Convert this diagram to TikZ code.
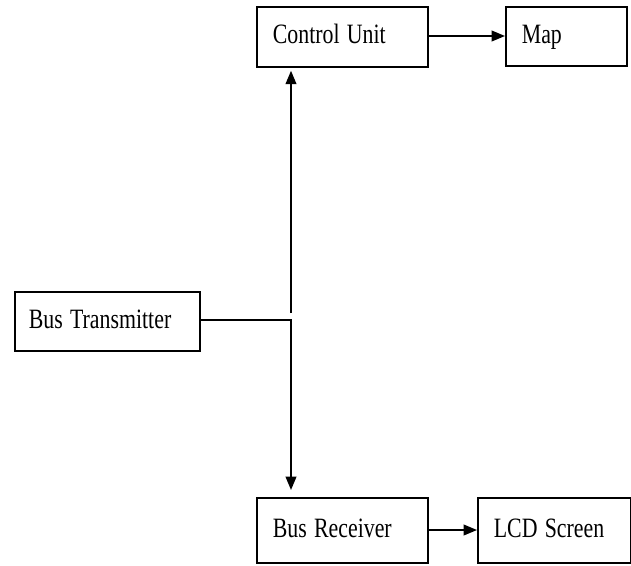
\documentclass[tikz,border=0pt]{standalone}
\usepackage{graphicx}
\usepackage{fontspec}
\setmainfont{Liberation Serif}
\usetikzlibrary{arrows.meta}

\newcommand{\narrowtext}[1]{\scalebox{0.78}[1]{#1}}

\tikzset{
  blockbox/.style={draw, line width=1.3pt, rectangle, anchor=north west,
    inner xsep=12pt, inner ysep=0pt, align=left,
    text height=14pt, text depth=4pt,
    font=\fontsize{21}{24}\selectfont},
  flowline/.style={line width=1.3pt},
  flowarrow/.style={flowline, -{Triangle[length=10pt,width=8pt]}}
}

\begin{document}
\begin{tikzpicture}[x=0.75pt,y=0.75pt,yscale=-1,xscale=1]
\useasboundingbox (0,0) rectangle (631,565);

%Shape: Rectangle [Control Unit]
\node[blockbox, text width=104.25pt, minimum height=45pt] (cu) at (256,6) {\narrowtext{Control Unit}};
%Shape: Rectangle [Map]
\node[blockbox, text width=66.75pt, minimum height=44.25pt] (map) at (505,6) {\narrowtext{Map}};
%Shape: Rectangle [Bus Transmitter]
\node[blockbox, text width=117.75pt, minimum height=44.25pt, inner xsep=10.5pt] (bt) at (14,291) {\narrowtext{Bus Transmitter}};
%Shape: Rectangle [Bus Receiver]
\node[blockbox, text width=104.25pt, minimum height=48.75pt] (br) at (256,497) {\narrowtext{Bus Receiver}};
%Shape: Rectangle [LCD Screen]
\node[blockbox, text width=90.75pt, minimum height=48.75pt] (lcd) at (477,497) {\narrowtext{LCD Screen}};

%Junction points
\coordinate (jn) at (291,320);
\coordinate (up) at (291,313);

%Straight Lines
\draw[flowarrow] (cu.east |- 0,36) -- (map.west |- 0,36);
\draw[flowarrow] (br.east |- 0,530) -- (lcd.west |- 0,530);
\draw[flowarrow, shorten >=2.25pt] (up) -- (up |- cu.south);
\draw[flowarrow, shorten >=5.25pt] (bt.east |- jn) -- (jn) -- (jn |- br.north);

\end{tikzpicture}
\end{document}
